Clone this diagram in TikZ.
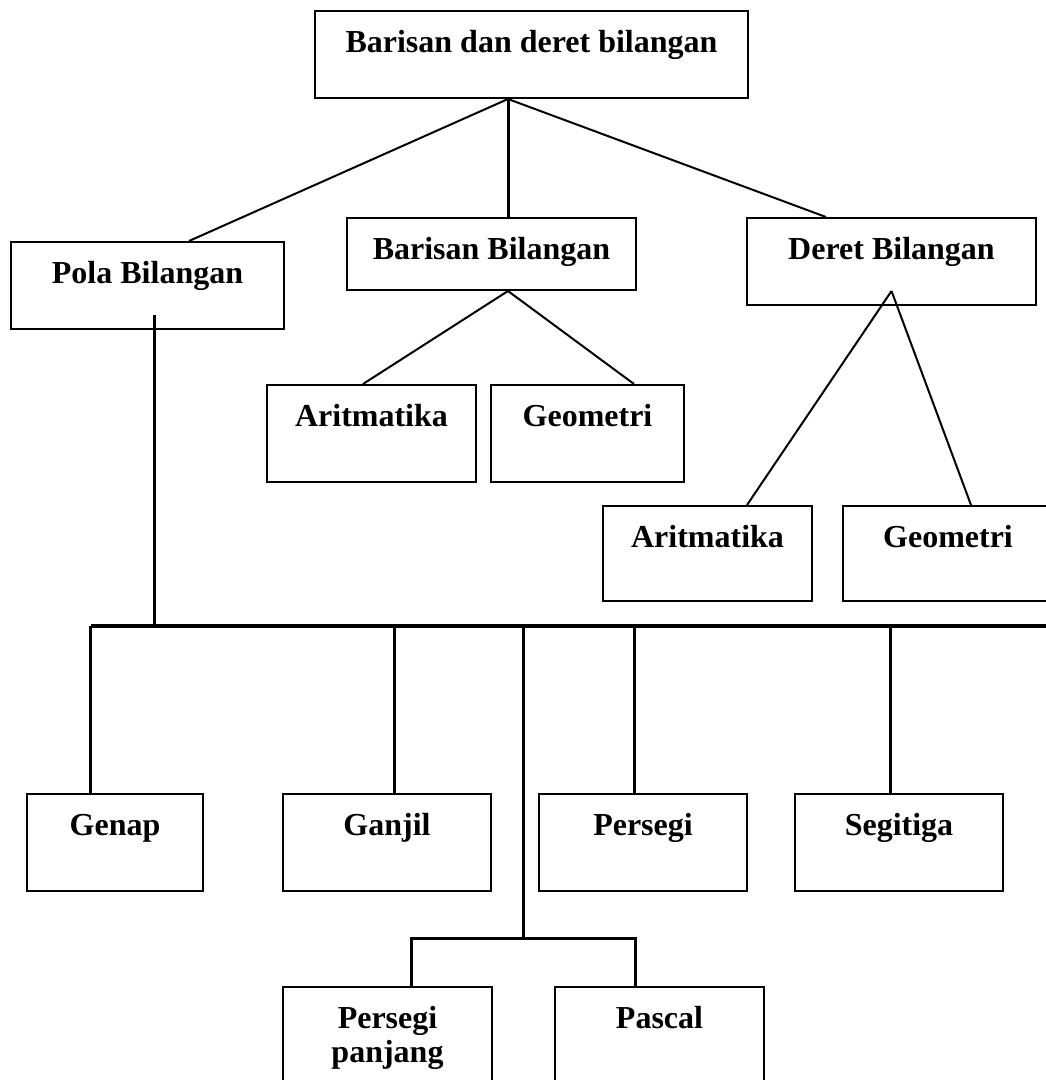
\documentclass[tikz,border=0pt]{standalone}
\usepackage{fontspec}
\setmainfont{Liberation Serif}
\usetikzlibrary{fit,calc}
\tikzset{
  boxst/.style={draw, line width=2pt, rectangle, inner sep=0pt},
  lbl/.style={font=\bfseries\fontsize{32}{34}\selectfont, inner sep=0pt, anchor=base, align=center},
  slant/.style={line width=2pt},
  thick line/.style={line width=3pt},
  busline/.style={line width=4pt}
}
\newcommand{\mkbox}[7][0]{%
  \node[boxst, fit={(#3,#4) (#5,#6)}] (#2) {};
  \node[lbl] (#2-t) at ([yshift=-42pt-#1pt]#2.north) {#7};
}
\begin{document}
\begin{tikzpicture}[x=1pt, y=-1pt]
\useasboundingbox (0,0) rectangle (1046,1080);
\clip (0,0) rectangle (1046,1080);
\fill[white] (0,0) rectangle (1046,1080);
% boxes
\mkbox{top}{315}{11}{748}{98}{Barisan dan deret bilangan}
\mkbox{pola}{11}{242}{284}{329}{Pola Bilangan}
\mkbox{bb}{347}{218}{636}{290}{Barisan Bilangan}
\mkbox{db}{747}{218}{1036}{305}{Deret Bilangan}
\mkbox{ar1}{267}{385}{476}{482}{Aritmatika}
\mkbox{ge1}{491}{385}{684}{482}{Geometri}
\mkbox{ar2}{603}{506}{812}{601}{Aritmatika}
\mkbox{ge2}{843}{506}{1053}{601}{Geometri}
\mkbox{genap}{27}{794}{203}{891}{Genap}
\mkbox{ganjil}{283}{794}{491}{891}{Ganjil}
\mkbox{persegi}{539}{794}{747}{891}{Persegi}
\mkbox{segitiga}{795}{794}{1003}{891}{Segitiga}
\mkbox[34]{pp}{283}{987}{492}{1110}{Persegi\\panjang}
\mkbox{pascal}{555}{987}{764}{1110}{Pascal}
% connectors from top
\coordinate (topj) at ([xshift=-23.5pt]top.south);
\draw[slant] (topj) -- ([xshift=179pt]pola.north west);
\draw[thick line] (topj) -- (topj |- bb.north);
\draw[slant] (topj) -- ([xshift=80pt]db.north west);
% Barisan Bilangan children
\coordinate (bbj) at (topj |- bb.south);
\draw[slant] (bbj) -- ([xshift=97pt]ar1.north west);
\draw[slant] (bbj) -- ([xshift=144pt]ge1.north west);
% Deret Bilangan children
\coordinate (dbj) at ([yshift=15pt]db.south);
\draw[slant] (dbj) -- ([xshift=145pt]ar2.north west);
\draw[slant] (dbj) -- ([xshift=129pt]ge2.north west);
% Pola bus
\coordinate (polaj) at ([xshift=144pt,yshift=15pt]pola.south west);
\coordinate (busL) at (91,626);
\coordinate (busR) at (1050,626);
\draw[thick line] (polaj) -- (polaj |- busL);
\draw[busline] (busL) -- (busR);
\coordinate (gj) at ([xshift=64pt]genap.north west);
\draw[thick line] (gj |- busL) -- (gj);
\coordinate (gaj) at ([xshift=112pt]ganjil.north west);
\draw[thick line] (gaj |- busL) -- (gaj);
\coordinate (pj) at ([xshift=96pt]persegi.north west);
\draw[thick line] (pj |- busL) -- (pj);
\coordinate (sj) at ([xshift=96pt]segitiga.north west);
\draw[thick line] (sj |- busL) -- (sj);
% middle branch
\coordinate (mid) at (523,938);
\draw[thick line] (mid |- busL) -- (mid);
\coordinate (ppj) at ([xshift=129pt]pp.north west);
\coordinate (paj) at ([xshift=81pt]pascal.north west);
\draw[thick line] (ppj) -- (ppj |- mid) -- (paj |- mid) -- (paj);
\end{tikzpicture}
\end{document}
